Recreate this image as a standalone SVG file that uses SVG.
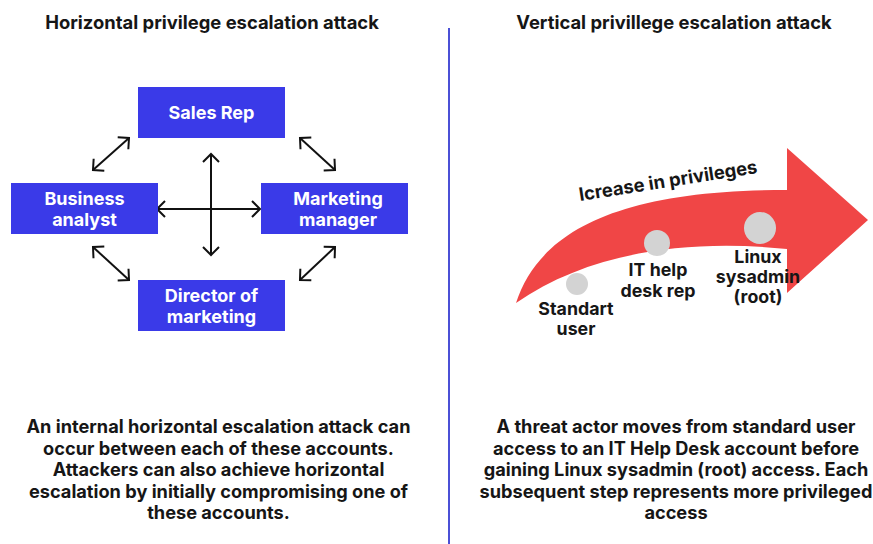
<svg xmlns="http://www.w3.org/2000/svg" width="873" height="544" viewBox="0 0 873 544">
<style>
text{font-family:Inter,"Liberation Sans",sans-serif;font-weight:700;fill:#161616;text-anchor:middle}
.title{font-size:18.4px}
.box{fill:#3a3ae8}
.bt{fill:#ffffff;font-size:18px}
.body{font-size:18.2px}
.lbl{font-size:17.8px}
.con{stroke:#111;stroke-width:2;fill:none;marker-start:url(#ah);marker-end:url(#ah)}
.dot{fill:#d3d3d3}
</style>
<defs>
<marker id="ah" viewBox="-10 -10 12 20" refX="0" refY="0" markerWidth="12" markerHeight="20" markerUnits="userSpaceOnUse" orient="auto-start-reverse" overflow="visible">
<path d="M-8,-8 L0,0 L-8,8" fill="none" stroke="#111" stroke-width="2"/>
</marker>
</defs>
<rect width="873" height="544" fill="#ffffff"/>

<text class="title" x="212" y="29">Horizontal privilege escalation attack</text>
<text class="title" x="674" y="29">Vertical privillege escalation attack</text>
<line x1="449" y1="28" x2="449" y2="544" stroke="#4b50d6" stroke-width="2"/>

<g id="connectors">
<line class="con" x1="211" y1="154" x2="211" y2="255"/>
<line class="con" x1="157" y1="209" x2="260" y2="209"/>
<line class="con" x1="93" y1="170" x2="129" y2="138"/>
<line class="con" x1="300" y1="138" x2="335" y2="170"/>
<line class="con" x1="93" y1="247" x2="129" y2="280"/>
<line class="con" x1="335" y1="247" x2="300" y2="280"/>
</g>

<g id="sales-rep">
<rect class="box" x="138" y="87" width="147" height="51"/>
<text class="bt" x="211.5" y="119">Sales Rep</text>
</g>
<g id="business-analyst">
<rect class="box" x="11" y="183" width="147" height="51"/>
<text class="bt" x="84.5" y="205">Business</text>
<text class="bt" x="84.5" y="226">analyst</text>
</g>
<g id="marketing-manager">
<rect class="box" x="261" y="183" width="147" height="51"/>
<text class="bt" x="338" y="205">Marketing</text>
<text class="bt" x="338" y="226">manager</text>
</g>
<g id="director-of-marketing">
<rect class="box" x="138" y="280" width="147" height="51"/>
<text class="bt" x="211.5" y="302">Director of</text>
<text class="bt" x="211.5" y="323">marketing</text>
</g>

<g id="privilege-arrow">
<path d="M516,303 C540,230 620,190 787,190 L787,148 L868,220 L787,293 L787,249 C680,238 585,255 516,303 Z" fill="#f04646"/>
<text class="lbl" style="font-size:18.4px" transform="translate(669,187) rotate(-9)">Icrease in privileges</text>
</g>
<g id="standart-user">
<circle class="dot" cx="577" cy="284" r="11"/>
<text class="lbl" x="576" y="315">Standart</text>
<text class="lbl" x="576" y="335">user</text>
</g>
<g id="it-help-desk-rep">
<circle class="dot" cx="657" cy="243" r="13"/>
<text class="lbl" x="658" y="276">IT help</text>
<text class="lbl" x="658" y="297">desk rep</text>
</g>
<g id="linux-sysadmin">
<circle class="dot" cx="760" cy="228" r="16"/>
<text class="lbl" x="758" y="263">Linux</text>
<text class="lbl" x="758" y="283">sysadmin</text>
<text class="lbl" x="758" y="303">(root)</text>
</g>

<g id="horizontal-caption">
<text class="body" x="218.5" y="433">An internal horizontal escalation attack can</text>
<text class="body" x="218.5" y="455">occur between each of these accounts.</text>
<text class="body" x="218.5" y="476">Attackers can also achieve horizontal</text>
<text class="body" x="218.5" y="498">escalation by initially compromising one of</text>
<text class="body" x="218.5" y="519">these accounts.</text>
</g>
<g id="vertical-caption">
<text class="body" x="676" y="433">A threat actor moves from standard user</text>
<text class="body" x="676" y="455">access to an IT Help Desk account before</text>
<text class="body" x="676" y="476">gaining Linux sysadmin (root) access. Each</text>
<text class="body" x="676" y="498">subsequent step represents more privileged</text>
<text class="body" x="676" y="519">access</text>
</g>
</svg>
